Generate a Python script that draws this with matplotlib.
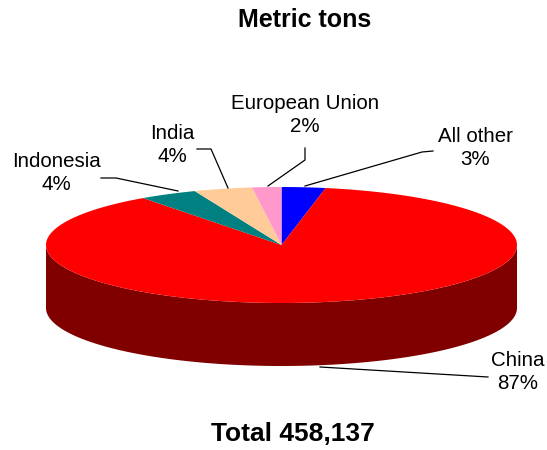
import numpy as np
import matplotlib.pyplot as plt
from matplotlib.patches import Polygon

plt.rcParams['font.family'] = ['Liberation Sans', 'DejaVu Sans']

# Slices in clockwise order starting at 12 o'clock
labels = ['All other', 'China', 'Indonesia', 'India', 'European Union']
shares = [3, 87, 4, 4, 2]
colors = ['#0000FF', '#FF0000', '#008080', '#FFCC99', '#FF99CC']
side_color = '#800000'
total_text = 'Total 458,137'
title_text = 'Metric tons'

# Pie geometry in pixel space (y grows downward)
cx, cy = 281.5, 245
rx, ry = 235.5, 58
depth = 63

fig = plt.figure(figsize=(5.47, 4.5), dpi=100)
ax = fig.add_axes([0, 0, 1, 1])
ax.set_xlim(0, 547)
ax.set_ylim(450, 0)
ax.axis('off')


def rim(t0, t1, n=200):
    t = np.radians(np.linspace(t0, t1, n))
    return cx + rx * np.sin(t), cy - ry * np.cos(t)


# side wall of the front half
xs, ys = rim(90, 270)
wall = np.column_stack([np.r_[xs, xs[::-1]], np.r_[ys, ys[::-1] + depth]])
ax.add_patch(Polygon(wall, closed=True, facecolor=side_color, edgecolor='none'))

# top face slices
angles = np.cumsum([0] + shares) / sum(shares) * 360
for i, c in enumerate(colors):
    xs, ys = rim(angles[i], angles[i + 1])
    pts = np.column_stack([np.r_[cx, xs], np.r_[cy, ys]])
    ax.add_patch(Polygon(pts, closed=True, facecolor=c, edgecolor='none'))

# labels and leader lines
label_pos = {
    'All other': (475, 148),
    'China': (518, 372),
    'Indonesia': (56, 173),
    'India': (172, 145),
    'European Union': (305, 115),
}
leaders = {
    'All other': [(433, 151), (422, 152), (305, 186)],
    'China': [(488, 377), (320, 367)],
    'Indonesia': [(101, 178), (116, 178), (178, 191)],
    'India': [(197, 149), (211, 149), (228, 188)],
    'European Union': [(305, 148), (305, 160), (268, 186)],
}
for lab, val in zip(labels, shares):
    x, y = label_pos[lab]
    ax.text(x, y, f'{lab}\n{val}%', ha='center', va='center',
            fontsize=14.8, linespacing=1.27)
    lx, ly = zip(*leaders[lab])
    ax.plot(lx, ly, color='black', lw=0.9)

ax.text(305, 20, title_text, ha='center', va='center', fontsize=18,
        fontweight='bold')
ax.text(293, 434, total_text, ha='center', va='center', fontsize=19,
        fontweight='bold')

fig.savefig('out.png', dpi=100)
